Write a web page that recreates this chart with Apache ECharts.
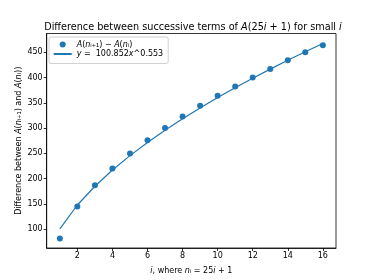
<!DOCTYPE html>
<html>
<head>
<meta charset="utf-8">
<script src="https://cdn.jsdelivr.net/npm/echarts@6/dist/echarts.min.js"></script>
<style>html,body{margin:0;padding:0;background:#fff}#c{width:374px;height:280px}</style>
</head>
<body>
<div id="c"></div>
<script>
var iValues = [1,2,3,4,5,6,7,8,9,10,11,12,13,14,15,16];
var diffValues = [82,145,187,220,250,276,300,323,344,364,382,400,417,434,450,464];
var fitValues = [100.9,148.0,185.1,217.1,245.6,271.7,295.8,318.5,339.9,360.3,379.8,398.5,416.6,434.0,450.9,467.3];
var xTicks = [2,4,6,8,10,12,14,16];
var yTicks = [100,150,200,250,300,350,400,450];

var F = 'DejaVu Sans';
var blue = '#1f77b4';
var chart = echarts.init(document.getElementById('c'), null, {renderer:'canvas'});
var ptsData = iValues.map(function(x,k){return [x, diffValues[k]];});
var fitData = iValues.map(function(x,k){return [x, fitValues[k]];});
chart.setOption({
  animation:false,
  backgroundColor:'#fff',
  title:{
    text:'Difference between successive terms of {it|A}(25{it|i} + 1) for small {it|i}',
    left:188, top:17, textAlign:'center',
    textStyle:{fontFamily:F, fontSize:9.7, fontWeight:'normal', color:'#000',
      rich:{it:{fontStyle:'italic', fontFamily:F, fontSize:9.7, color:'#000'}}}
  },
  legend:{
    orient:'vertical', left:49, top:37,
    data:[{name:'pts', icon:'circle'},{name:'fit', itemStyle:{opacity:0, color:'rgba(0,0,0,0)', borderWidth:0}}],
    itemWidth:18, itemHeight:6, itemGap:0.5,
    borderColor:'#d0d0d0', borderWidth:1, borderRadius:2,
    padding:[3,5,5,3.7],
    formatter:function(n){
      if(n==='pts') return '{it|A}({it|n}ᵢ₊₁) − {it|A}({it|n}ᵢ)';
      return '{it|y} =  100.852{it|x}^0.553';
    },
    textStyle:{fontFamily:F, fontSize:8, color:'#000', lineHeight:9,
      rich:{it:{fontStyle:'italic', fontFamily:F, fontSize:8, color:'#000', lineHeight:9}}}
  },
  grid:{left:46.7, right:38, top:33.5, bottom:32, show:true, borderColor:'#000', borderWidth:0.8, backgroundColor:'transparent'},
  xAxis:{
    type:'value', min:0.25, max:16.75,
    name:'{it|i}, where {it|n}ᵢ = 25{it|i} + 1', nameLocation:'middle', nameGap:19,
    nameTextStyle:{fontFamily:F, fontSize:8, color:'#000', rich:{it:{fontStyle:'italic', fontFamily:F, fontSize:8, color:'#000'}}},
    splitLine:{show:false},
    axisLine:{show:true, lineStyle:{color:'#000', width:0.8}},
    axisTick:{show:true, length:3, lineStyle:{color:'#000', width:0.8}, customValues:xTicks},
    axisLabel:{fontFamily:F, fontSize:8, color:'#000', margin:4, customValues:xTicks}
  },
  yAxis:{
    type:'value', min:63, max:487,
    name:'Difference between {it|A}({it|n}ᵢ₊₁) and {it|A}({it|n}ᵢ))', nameLocation:'middle', nameGap:24, nameMoveOverlap:false,
    nameTextStyle:{fontFamily:F, fontSize:8, color:'#000', rich:{it:{fontStyle:'italic', fontFamily:F, fontSize:8, color:'#000'}}},
    splitLine:{show:false},
    axisLine:{show:true, lineStyle:{color:'#000', width:0.8}},
    axisTick:{show:true, length:3, lineStyle:{color:'#000', width:0.8}, customValues:yTicks},
    axisLabel:{fontFamily:F, fontSize:8, color:'#000', margin:4, customValues:yTicks}
  },
  series:[
    {name:'pts', type:'scatter', data:ptsData, symbol:'circle', symbolSize:6, itemStyle:{color:blue, opacity:1}, z:2},
    {name:'fit', type:'line', data:fitData, symbol:'none', showSymbol:false, lineStyle:{color:blue, width:1.2}, itemStyle:{color:blue}, z:3}
  ]
});
</script>
</body>
</html>
